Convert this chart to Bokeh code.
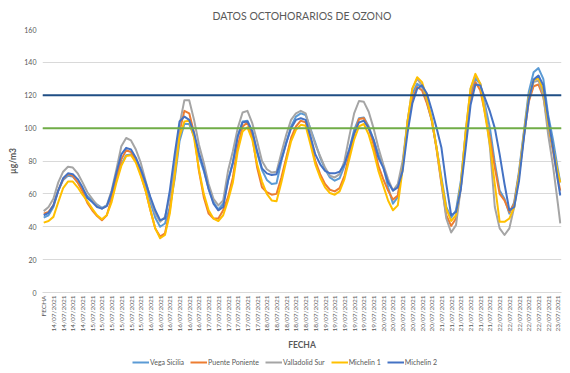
import math
from bokeh.plotting import figure
from bokeh.layouts import column
from bokeh.models import Range1d, FixedTicker, Span, Legend, LegendItem
from bokeh.embed import file_html
from bokeh.resources import INLINE

TITLE = "DATOS OCTOHORARIOS DE OZONO"
Y_LABEL = "µg/m3"
X_TITLE = "FECHA"

X_LABELS = [
    "FECHA",
    "14/07/2021", "14/07/2021", "14/07/2021", "14/07/2021",
    "15/07/2021", "15/07/2021", "15/07/2021", "15/07/2021", "15/07/2021", "15/07/2021",
    "16/07/2021", "16/07/2021", "16/07/2021", "16/07/2021", "16/07/2021", "16/07/2021",
    "17/07/2021", "17/07/2021", "17/07/2021", "17/07/2021", "17/07/2021", "17/07/2021",
    "18/07/2021", "18/07/2021", "18/07/2021", "18/07/2021", "18/07/2021", "18/07/2021",
    "19/07/2021", "19/07/2021", "19/07/2021", "19/07/2021", "19/07/2021", "19/07/2021",
    "20/07/2021", "20/07/2021", "20/07/2021", "20/07/2021", "20/07/2021", "20/07/2021",
    "21/07/2021", "21/07/2021", "21/07/2021", "21/07/2021", "21/07/2021", "21/07/2021",
    "22/07/2021", "22/07/2021", "22/07/2021", "22/07/2021", "22/07/2021", "22/07/2021",
    "23/07/2021",
]
LABEL_EVERY_HOURS = 4

# hourly index of each sample (every 2 h, last one at hour 213)
HOURS = list(range(0, 213, 2)) + [213]

VEGA_SICILIA = [
    45.5, 47, 52, 62, 68.5, 71, 70.5, 67, 63, 58.5, 56, 53.5,
    51.5, 53, 58, 69, 78, 83.5, 84, 80, 74, 66, 55, 45.5,
    40, 42, 52, 69, 92, 102.5, 102.5, 95, 83, 74, 63, 55,
    50.5, 54, 68, 79, 95, 104, 104.5, 98, 85, 74.5, 68.5, 66,
    66.5, 80, 91, 101, 107, 109, 108, 99.5, 91, 82, 75, 70,
    68, 69.5, 77, 87, 99, 106, 106.5, 101, 93, 84, 77, 64,
    54, 58, 77, 104, 121, 127, 125, 116, 104.5, 88, 70, 52,
    45.5, 50, 68, 97, 121, 130, 127, 114, 100, 79, 62, 57,
    48, 55, 74, 98, 122, 134, 136.5, 130, 108, 93, 75, 67,
]
PUENTE_PONIENTE = [
    48, 49, 53, 62, 69, 72, 71, 67, 61.5, 54.5, 50, 46.5,
    44, 47, 57, 70, 81, 86.5, 85.5, 80, 72, 62, 50, 39,
    34, 36, 50, 73, 98, 110.5, 109, 97, 74, 58, 48, 45,
    45, 50, 58, 70, 89, 101, 103.5, 95, 76, 64, 61, 59.5,
    60, 70, 82, 94, 101, 104.5, 103.5, 92, 80, 72, 66, 62.5,
    61.5, 63.5, 71, 84, 96, 105.5, 106, 100, 90, 77, 69, 62,
    56.5, 59, 77, 102, 118, 125, 123, 115, 105, 87, 66, 47,
    40.5, 45, 64, 94, 118, 128, 123, 109, 94, 76, 60, 56,
    49, 54, 72, 95, 116, 125.5, 126.5, 119, 101, 86, 69, 62,
]
VALLADOLID_SUR = [
    49.5, 52, 57, 67, 73.5, 76.5, 76, 72.5, 67, 61, 57, 53,
    51, 53, 62, 75, 89, 94, 92.5, 87, 79, 68, 57, 48,
    43, 46, 58, 78, 102, 117, 117, 105, 90, 79, 66, 57,
    53, 56, 74, 86, 100, 109.5, 110.5, 103, 92, 80, 75, 73,
    73.5, 85, 96, 105, 109, 110.5, 109, 99, 90, 83, 76, 71,
    70, 72, 80, 95, 109, 116.5, 116, 110, 100, 88, 78, 69,
    62, 66, 80, 104, 124, 130, 126, 117, 106, 88, 67, 45,
    36.5, 41, 64, 98, 124, 132, 127, 112, 88, 52, 39, 35,
    39, 52, 72, 97, 118, 128, 129, 120, 96, 77, 54, 42,
]
MICHELIN_1 = [
    42.5, 43.5, 46, 55, 63.5, 67.5, 67.5, 64, 59.5, 55.5, 51, 47,
    44.5, 47, 55, 67, 77, 83, 83.5, 79, 71, 62, 50, 39,
    33, 35, 48, 71, 95, 104, 104.5, 94, 75, 60, 50, 45,
    43.5, 47, 56, 67, 86, 98, 100.5, 93, 78, 67.5, 60, 56,
    55.5, 67, 80, 92, 99, 102, 101.5, 90, 78, 70, 64, 60.5,
    59.5, 61.5, 69, 81, 93, 101, 102.5, 96, 86, 74, 65, 56,
    50, 53, 75, 104, 124, 131, 128, 118, 105, 88, 68, 51,
    43.5, 47, 66, 98, 124, 133, 127, 108, 90, 66, 43, 43,
    45, 52, 71, 96, 119, 129, 130.5, 123, 103, 88, 73, 67,
]
MICHELIN_2 = [
    47, 48.5, 53, 62, 69.5, 72.5, 72, 69, 64, 57.5, 55, 52,
    51, 52.5, 61, 73, 84, 88, 87, 82, 75, 67, 58, 50,
    44, 45, 62, 84, 104, 107, 105, 97, 85, 75, 63, 54,
    50, 52, 68, 79, 95, 103.5, 104, 98, 86, 75.5, 72.5, 71.5,
    72, 81, 91, 100, 105, 106, 105, 95, 84, 78, 74, 72.5,
    72.5, 73.5, 78, 87, 97, 103.5, 104.5, 100, 93, 82, 76, 67,
    62, 64, 74, 97, 115, 124, 126, 121, 111, 100, 88, 66,
    47, 49, 63, 88, 114, 126.5, 126, 118, 110, 100, 84, 66,
    50, 52, 68, 94, 117, 129.5, 132, 126, 106, 88, 68, 59,
]

SERIES_NAMES = ["Vega Sicilia", "Puente Poniente", "Valladolid Sur", "Michelin 1", "Michelin 2"]
SERIES_VALUES = [VEGA_SICILIA, PUENTE_PONIENTE, VALLADOLID_SUR, MICHELIN_1, MICHELIN_2]
SERIES_COLORS = ["#5B9BD5", "#ED7D31", "#A5A5A5", "#FFC000", "#4472C4"]

LIMIT_VALUES = [120, 100]
LIMIT_COLORS = ["#1F4E85", "#70AD47"]

Y_TICKS = [0, 20, 40, 60, 80, 100, 120, 140, 160]

FONT = "Lato"
TXT = "#595959"

x_range = Range1d(-0.5, 213.5)

p = figure(width=570, height=352, output_backend="svg", toolbar_location=None,
           x_range=x_range, y_range=Range1d(0, 160),
           min_border_left=42, min_border_right=9, min_border_top=29,
           min_border_bottom=59, title=TITLE)
p.title.align = "center"
p.title.text_font = FONT
p.title.text_font_size = "10.5px"
p.title.text_font_style = "normal"
p.title.text_color = TXT
p.title.standoff = 15
p.outline_line_color = None
p.background_fill_color = "white"
p.border_fill_color = "white"

p.xgrid.visible = False
p.ygrid.grid_line_color = "#D9D9D9"
p.ygrid.grid_line_width = 1

p.yaxis.ticker = FixedTicker(ticks=Y_TICKS)
p.yaxis.axis_line_color = None
p.yaxis.major_tick_line_color = None
p.yaxis.minor_tick_line_color = None
p.yaxis.major_tick_out = 0
p.yaxis.major_tick_in = 0
p.yaxis.minor_tick_out = 0
p.yaxis.major_label_text_font = FONT
p.yaxis.major_label_text_font_size = "7px"
p.yaxis.major_label_text_color = TXT
p.yaxis.major_label_standoff = 6
p.yaxis.axis_label = Y_LABEL
p.yaxis.axis_label_text_font = FONT
p.yaxis.axis_label_text_font_size = "8.5px"
p.yaxis.axis_label_text_font_style = "bold"
p.yaxis.axis_label_text_color = TXT
p.yaxis.axis_label_standoff = 3

tick_pos = [i * LABEL_EVERY_HOURS for i in range(len(X_LABELS))]
p.xaxis.ticker = FixedTicker(ticks=tick_pos)
p.xaxis.major_label_overrides = {t: lab for t, lab in zip(tick_pos, X_LABELS)}
p.xaxis.major_label_orientation = math.pi / 2
p.xaxis.axis_line_color = "#D9D9D9"
p.xaxis.major_tick_line_color = None
p.xaxis.minor_tick_line_color = None
p.xaxis.major_tick_out = 0
p.xaxis.major_tick_in = 0
p.xaxis.minor_tick_out = 0
p.xaxis.major_label_text_font = FONT
p.xaxis.major_label_text_font_size = "6.5px"
p.xaxis.major_label_text_color = TXT
p.xaxis.major_label_standoff = 3
p.xaxis.axis_label = X_TITLE
p.xaxis.axis_label_text_font = FONT
p.xaxis.axis_label_text_font_size = "8.5px"
p.xaxis.axis_label_text_font_style = "bold"
p.xaxis.axis_label_text_color = TXT
p.xaxis.axis_label_standoff = 5

for vals, col in zip(SERIES_VALUES, SERIES_COLORS):
    p.line(HOURS, vals, line_color=col, line_width=2, line_join="round")

for v, c in zip(LIMIT_VALUES, LIMIT_COLORS):
    p.add_layout(Span(location=v, dimension="width", line_color=c, line_width=2))

# legend strip underneath the chart (its lines fall outside its own view)
lg = figure(width=570, height=21, output_backend="svg", toolbar_location=None,
            x_range=x_range, y_range=Range1d(-2, -1),
            x_axis_location=None, y_axis_location=None,
            min_border_left=0, min_border_right=0, min_border_top=0, min_border_bottom=0)
lg.outline_line_color = None
lg.grid.visible = False
lg.background_fill_color = "white"
lg.border_fill_color = "white"
items = []
for name, vals, col in zip(SERIES_NAMES, SERIES_VALUES, SERIES_COLORS):
    r = lg.line(HOURS, vals, line_color=col, line_width=2)
    items.append(LegendItem(label=name, renderers=[r]))
legend = Legend(items=items, location=(90, 6), orientation="horizontal",
                label_text_font=FONT, label_text_font_size="7px",
                label_text_color=TXT, glyph_width=17, glyph_height=10,
                label_height=10, label_standoff=1, spacing=6, padding=0,
                margin=0, border_line_color=None, background_fill_alpha=0)
lg.add_layout(legend)

layout = column(p, lg, spacing=0)
open("out.html", "w").write(file_html(layout, INLINE))
